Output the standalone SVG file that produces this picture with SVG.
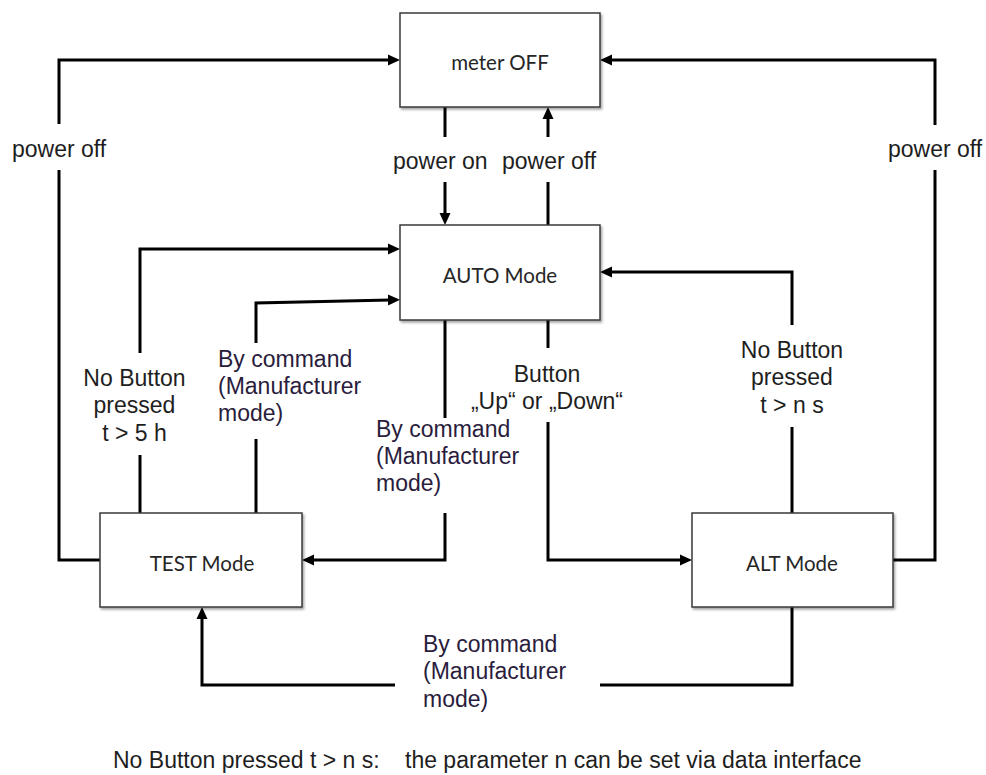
<svg xmlns="http://www.w3.org/2000/svg" width="986" height="775" viewBox="0 0 986 775">
<style>
.box{fill:#fff;stroke:#3a3a3a;stroke-width:1.5;filter:url(#sh)}
.node{font-family:Lato,"Liberation Sans",sans-serif;font-size:20.5px;fill:#262626;text-anchor:middle}
.lbl{font-family:"Liberation Sans",Arial,sans-serif;font-size:23px;fill:#1e1e1e}
.mid{text-anchor:middle}
.cmd{fill:#2a1c3c}
.conn{fill:none;stroke:#000;stroke-width:3;marker-end:url(#arr)}
.bg{fill:#fff}
</style>
<defs>
<filter id="sh" x="-5%" y="-5%" width="115%" height="120%">
<feDropShadow dx="1.5" dy="2" stdDeviation="1.2" flood-color="#000" flood-opacity="0.35"/>
</filter>
<marker id="arr" markerUnits="userSpaceOnUse" markerWidth="14" markerHeight="12" refX="2" refY="6" orient="auto">
<path d="M0,0.5 L12,6 L0,11.5 z" fill="#000"/>
</marker>
</defs>
<rect width="986" height="775" fill="#fff"/>
<g id="connectors">
<path class="conn" d="M100,560 H59 V60 H390"/>
<path class="conn" d="M893,560 H935 V60 H610"/>
<path class="conn" d="M445,107 V215"/>
<path class="conn" d="M548,225 V117"/>
<path class="conn" d="M140,513 V249 H390"/>
<path class="conn" d="M256,513 V303 L390,300"/>
<path class="conn" d="M445,320 V560 H312"/>
<path class="conn" d="M548,320 V560 H682"/>
<path class="conn" d="M792,513 V272 H610"/>
<path class="conn" d="M792,607 V685 H202 V617"/>
</g>
<g id="labels">
<rect class="bg" x="5" y="124" width="118" height="46"/>
<text class="lbl" x="12" y="157">power off</text>
<rect class="bg" x="880" y="125" width="106" height="45"/>
<text class="lbl" x="888" y="157">power off</text>
<rect class="bg" x="382" y="137" width="226" height="45"/>
<text class="lbl" x="393" y="169">power on</text>
<text class="lbl" x="502" y="169">power off</text>
<rect class="bg" x="66" y="353" width="136" height="102"/>
<text class="lbl mid" x="134.5" y="386">No Button</text>
<text class="lbl mid" x="134.5" y="413">pressed</text>
<text class="lbl mid" x="134.5" y="441">t &gt; 5 h</text>
<rect class="bg" x="205" y="343" width="140" height="96"/>
<text class="lbl cmd" x="218" y="367">By command</text>
<text class="lbl cmd" x="218" y="394">(Manufacturer</text>
<text class="lbl cmd" x="218" y="421">mode)</text>
<rect class="bg" x="368" y="418" width="154" height="95"/>
<text class="lbl cmd" x="376" y="437">By command</text>
<text class="lbl cmd" x="376" y="464">(Manufacturer</text>
<text class="lbl cmd" x="376" y="491">mode)</text>
<rect class="bg" x="462" y="348" width="178" height="70"/>
<rect class="bg" x="522" y="418" width="40" height="4"/>
<text class="lbl mid" x="547" y="382">Button</text>
<text class="lbl mid" x="547" y="409">„Up“ or „Down“</text>
<rect class="bg" x="728" y="325" width="130" height="102"/>
<text class="lbl mid" x="792" y="358">No Button</text>
<text class="lbl mid" x="792" y="385">pressed</text>
<text class="lbl mid" x="792" y="413">t &gt; n s</text>
<rect class="bg" x="395" y="625" width="205" height="90"/>
<text class="lbl cmd" x="423" y="652">By command</text>
<text class="lbl cmd" x="423" y="679">(Manufacturer</text>
<text class="lbl cmd" x="423" y="707">mode)</text>
</g>
<g id="meter-off">
<rect class="box" x="400" y="13" width="200" height="94"/>
<text class="node" x="500" y="70">meter OFF</text>
</g>
<g id="auto-mode">
<rect class="box" x="400" y="225" width="200" height="95"/>
<text class="node" x="500" y="283">AUTO Mode</text>
</g>
<g id="test-mode">
<rect class="box" x="100" y="513" width="202" height="94"/>
<text class="node" x="202" y="571">TEST Mode</text>
</g>
<g id="alt-mode">
<rect class="box" x="692" y="513" width="201" height="94"/>
<text class="node" x="792" y="571">ALT Mode</text>
</g>
<g id="footnote">
<text class="lbl" x="113" y="768">No Button pressed t &gt; n s:</text>
<text class="lbl" x="405" y="768">the parameter n can be set via data interface</text>
</g>
</svg>
